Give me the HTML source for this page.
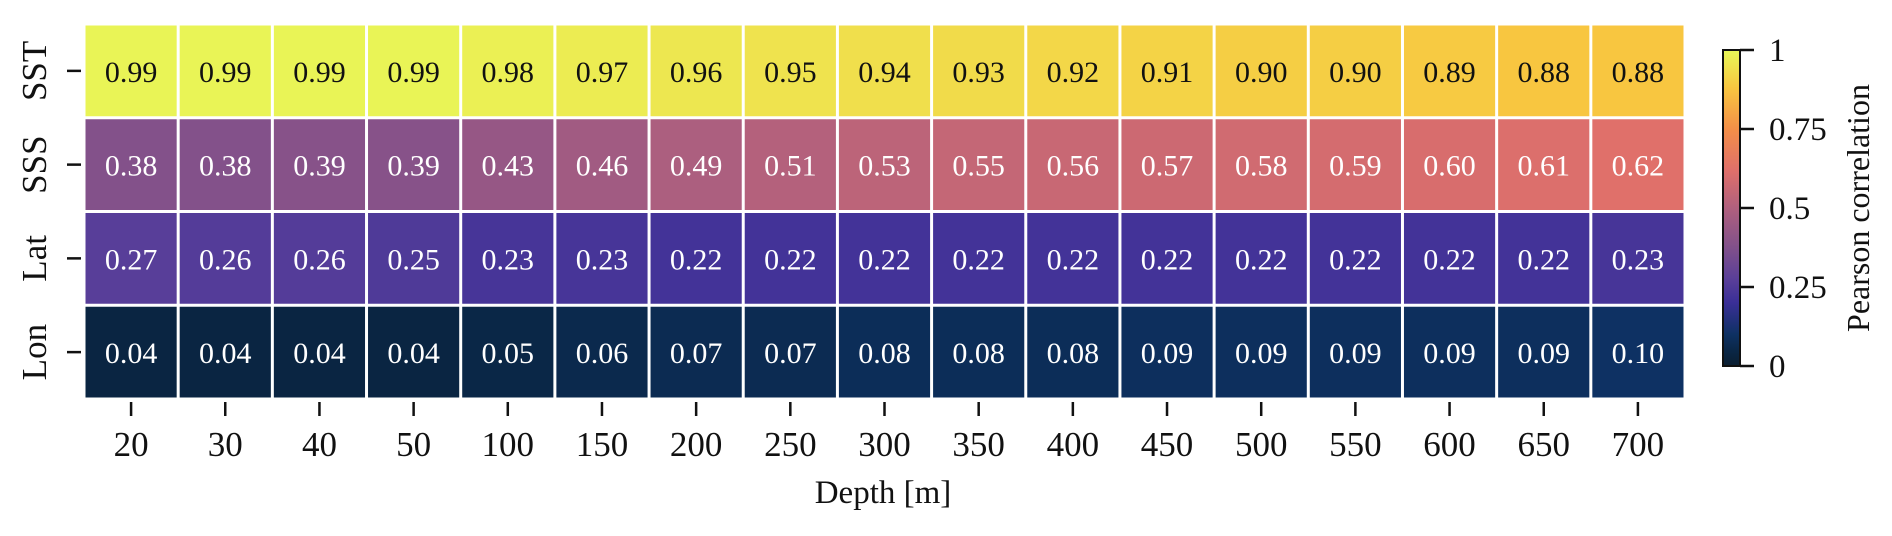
<!DOCTYPE html>
<html><head><meta charset="utf-8"><style>
html,body{margin:0;padding:0;background:#fff;}
svg{display:block;font-family:"Liberation Serif",serif;}
</style></head><body>
<svg id="chart" width="1892" height="536" viewBox="0 0 1892 536" xmlns="http://www.w3.org/2000/svg">
<defs>
<linearGradient id="cbgrad" x1="0" y1="1" x2="0" y2="0">
<stop offset="0" stop-color="#0b1e30"/><stop offset="0.05" stop-color="#0a2747"/><stop offset="0.1" stop-color="#0e3163"/>
<stop offset="0.2" stop-color="#3a2f97"/><stop offset="0.27" stop-color="#583e99"/><stop offset="0.38" stop-color="#83518a"/>
<stop offset="0.5" stop-color="#b0607e"/><stop offset="0.62" stop-color="#e0706a"/><stop offset="0.75" stop-color="#f48f48"/>
<stop offset="0.88" stop-color="#f8c640"/><stop offset="1" stop-color="#e8f858"/>
</linearGradient>
</defs>
<g id="cells"></g>
<g id="axes"></g>
</svg>
<script>
const depths = ["20","30","40","50","100","150","200","250","300","350","400","450","500","550","600","650","700"];
const variables = ["SST","SSS","Lat","Lon"];
const sstValues = [0.99,0.99,0.99,0.99,0.98,0.97,0.96,0.95,0.94,0.93,0.92,0.91,0.90,0.90,0.89,0.88,0.88];
const sssValues = [0.38,0.38,0.39,0.39,0.43,0.46,0.49,0.51,0.53,0.55,0.56,0.57,0.58,0.59,0.60,0.61,0.62];
const latValues = [0.27,0.26,0.26,0.25,0.23,0.23,0.22,0.22,0.22,0.22,0.22,0.22,0.22,0.22,0.22,0.22,0.23];
const lonValues = [0.04,0.04,0.04,0.04,0.05,0.06,0.07,0.07,0.08,0.08,0.08,0.09,0.09,0.09,0.09,0.09,0.10];
const cbTicks = [0,0.25,0.5,0.75,1];
const cbTickLabels = ["0","0.25","0.5","0.75","1"];

const NS="http://www.w3.org/2000/svg";
const series=[sstValues,sssValues,latValues,lonValues];
const L=84,R=1685,T=24,B=399;
const cw=(R-L)/depths.length, ch=(B-T)/variables.length;
const xAt=i=>L+i*cw, yAt=j=>T+j*ch;
const stops=[[0,"#0b1e30"],[0.05,"#0a2747"],[0.1,"#0e3163"],[0.2,"#3a2f97"],[0.27,"#583e99"],[0.38,"#83518a"],[0.5,"#b0607e"],[0.62,"#e0706a"],[0.75,"#f48f48"],[0.88,"#f8c640"],[1,"#e8f858"]];
function hex(h){return [1,3,5].map(k=>parseInt(h.substr(k,2),16));}
function cmap(v){for(let k=1;k<stops.length;k++){if(v<=stops[k][0]){const a=stops[k-1],b=stops[k];const t=(v-a[0])/(b[0]-a[0]);const ca=hex(a[1]),cb=hex(b[1]);return "rgb("+ca.map((c,i)=>Math.round(c+(cb[i]-c)*t)).join(",")+")";}}return stops[stops.length-1][1];}
function el(tag,attrs,parent){const e=document.createElementNS(NS,tag);for(const k in attrs)e.setAttribute(k,attrs[k]);parent.appendChild(e);return e;}
const cells=document.getElementById('cells'), axes=document.getElementById('axes');
series.forEach((vals,j)=>{vals.forEach((v,i)=>{
  const r=el('rect',{x:xAt(i)+1.5,y:yAt(j)+1.5,width:cw-3,height:ch-3,fill:cmap(v)},cells);
  
  
  const t=el('text',{x:xAt(i)+cw/2,y:yAt(j)+ch/2+11,'text-anchor':'middle','font-size':'30',fill:j===0?'#111':'#fff'},cells);
  t.textContent=v.toFixed(2);
  
  
});});
depths.forEach((d,i)=>{
  const cx=xAt(i)+cw/2;
  el('line',{x1:cx,x2:cx,y1:402,y2:416,stroke:'#111','stroke-width':2.5},axes);
  const t=el('text',{x:cx,y:456,'text-anchor':'middle','font-size':'35',fill:'#111'},axes);
  t.textContent=d;
  
  
});
variables.forEach((v,j)=>{
  const cy=yAt(j)+ch/2;
  el('line',{x1:67,x2:81,y1:cy,y2:cy,stroke:'#111','stroke-width':2.5},axes);
  const t=el('text',{x:0,y:0,transform:'translate(46,'+cy+') rotate(-90)','text-anchor':'middle','font-size':'35',fill:'#111'},axes);
  t.textContent=v;
  
  
});
const xt=el('text',{x:883,y:503,'text-anchor':'middle','font-size':'33',fill:'#111'},axes);
xt.textContent='Depth [m]';


const cbX=1723,cbW=17,cbT=50,cbB=366;
const cb=el('rect',{x:cbX,y:cbT,width:cbW,height:cbB-cbT,fill:'url(#cbgrad)',stroke:'#111','stroke-width':2},axes);


cbTicks.forEach((v,k)=>{
  const y=cbB-v*(cbB-cbT);
  el('line',{x1:cbX+cbW,x2:cbX+cbW+14,y1:y,y2:y,stroke:'#111','stroke-width':2.5},axes);
  const t=el('text',{x:1769,y:y+11,'font-size':'33',fill:'#111'},axes);
  t.textContent=cbTickLabels[k];
  
  
});
const ct=el('text',{x:0,y:0,transform:'translate(1869,208) rotate(-90)','text-anchor':'middle','font-size':'32',fill:'#111'},axes);
ct.textContent='Pearson correlation';


</script>
</body></html>
